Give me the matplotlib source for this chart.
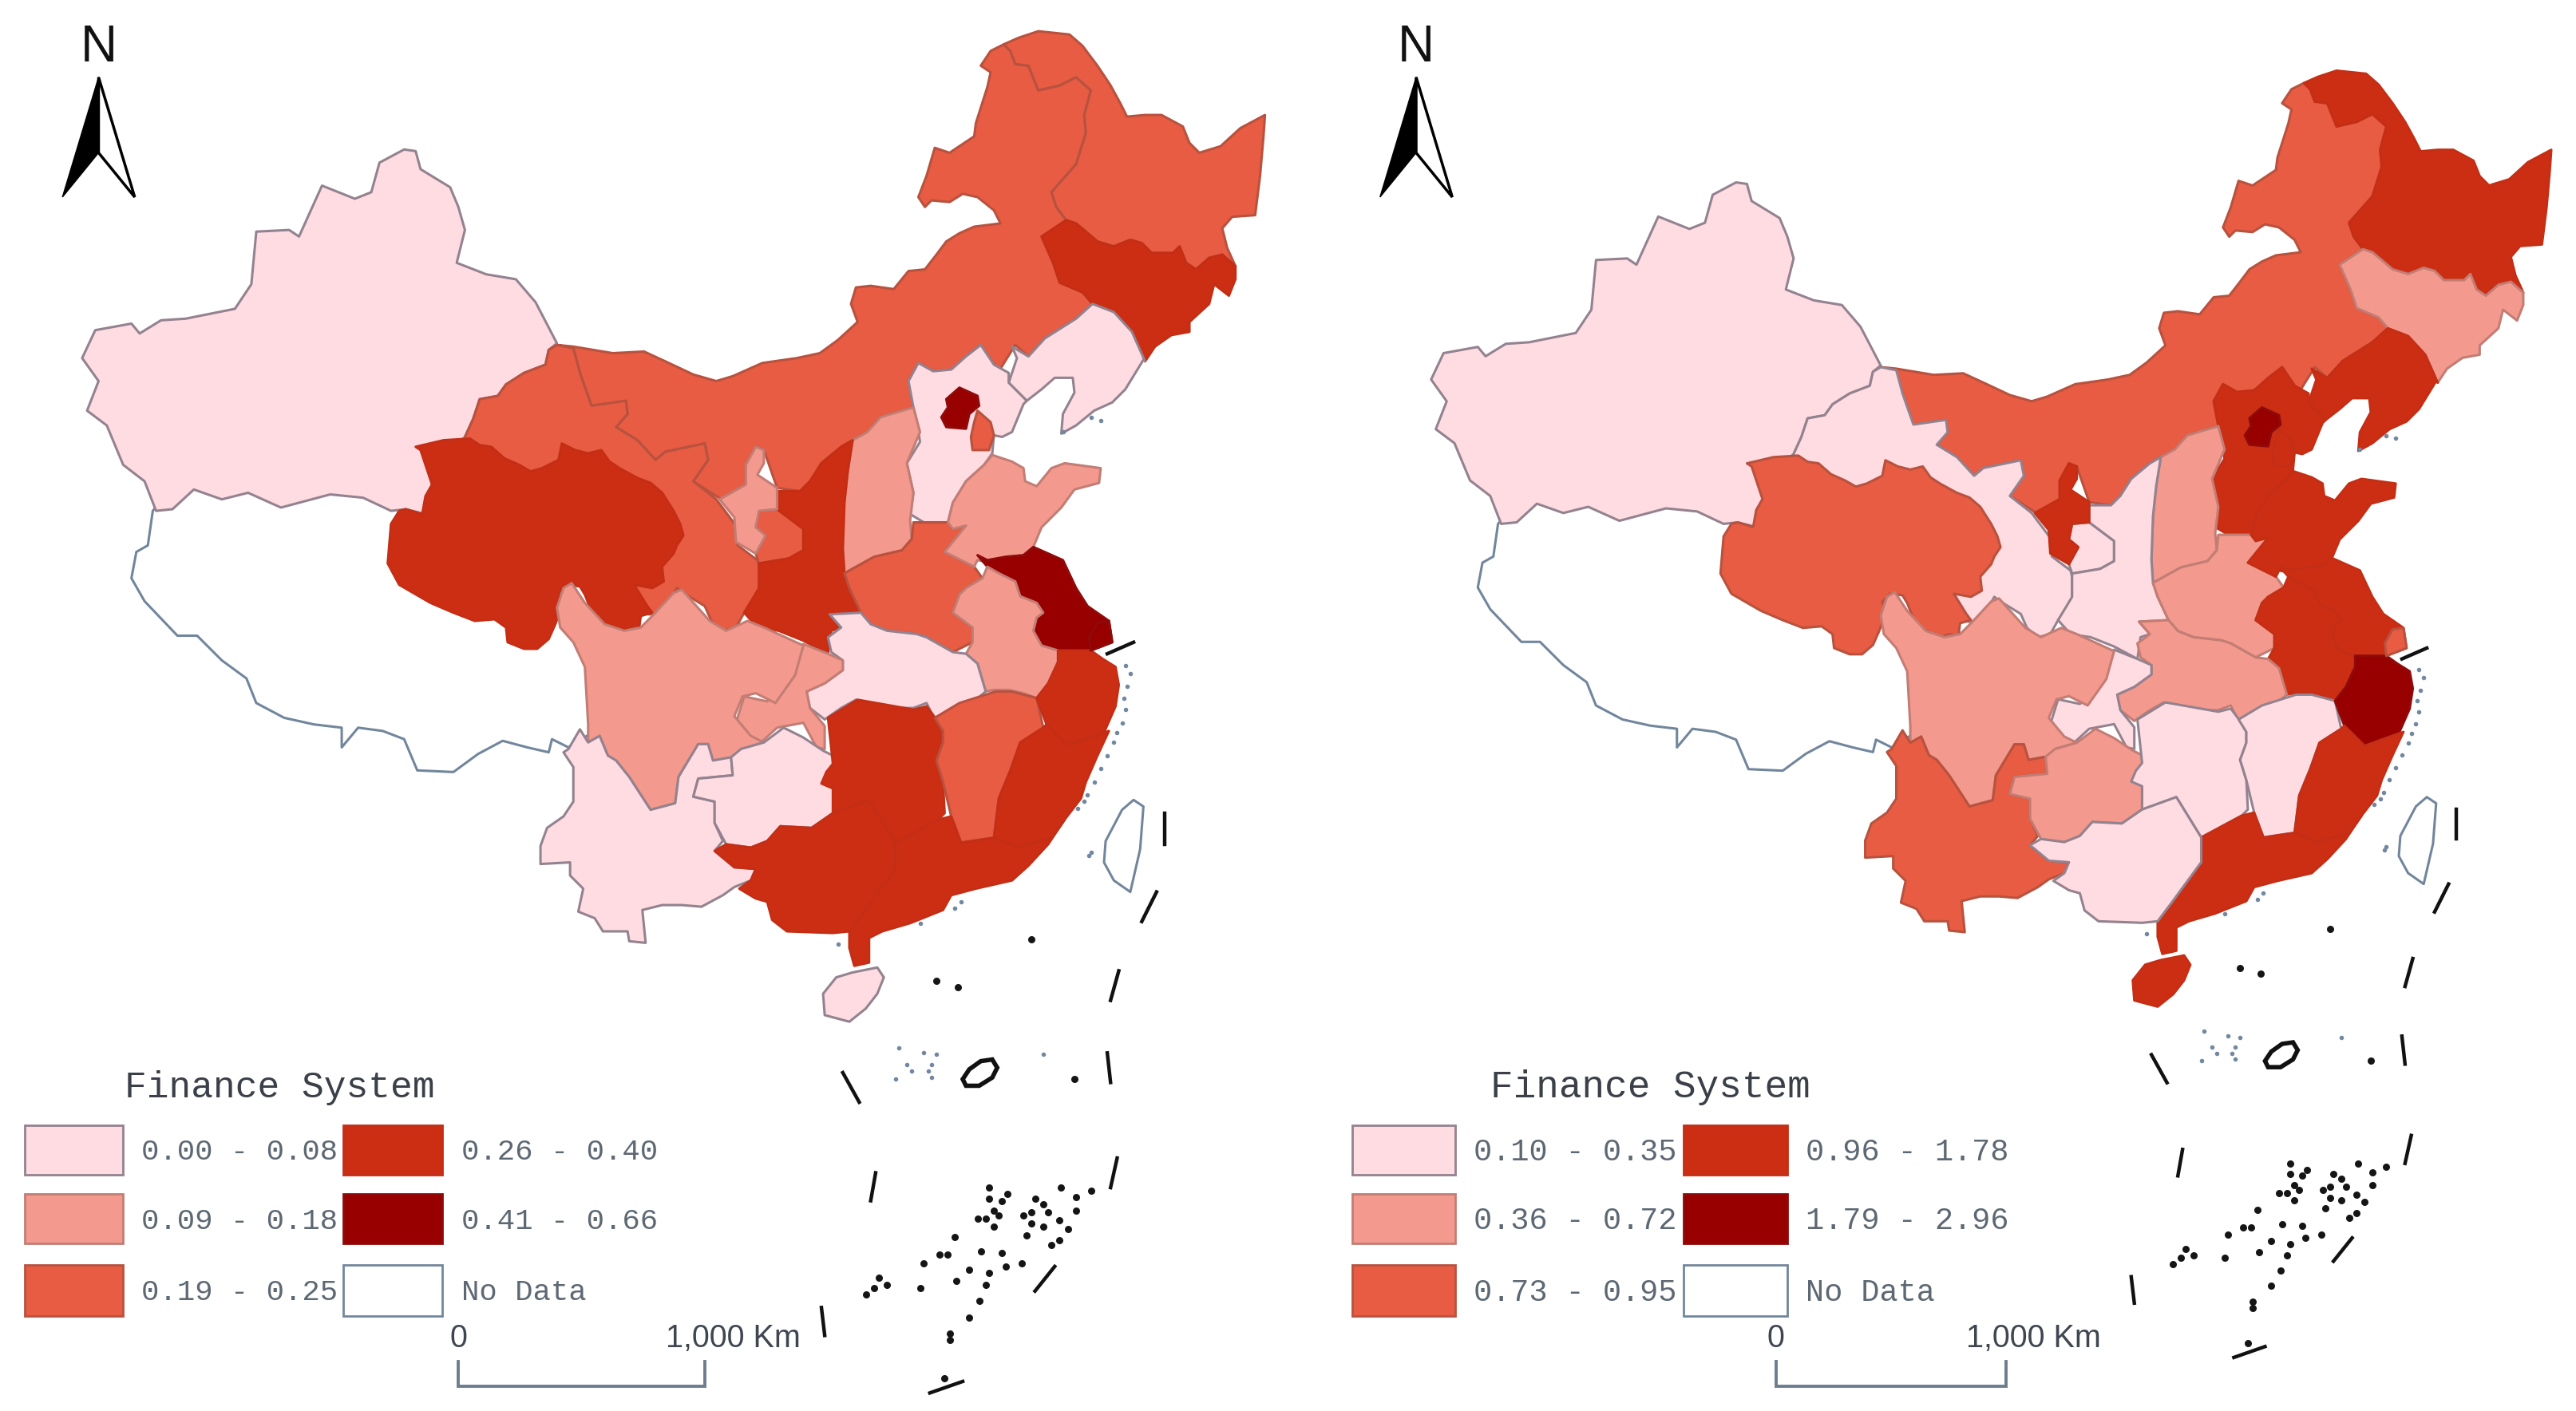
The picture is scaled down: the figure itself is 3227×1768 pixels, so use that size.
import matplotlib
matplotlib.use('Agg')
import matplotlib.pyplot as plt
from matplotlib.patches import Polygon, Rectangle

# Contours des provinces (unites de la carte de gauche, y vers le bas)
tibet = [(93,311),(90,332),(83,336),(80,352),(88,366),(108,387),(120,387),(135,402),(150,413),(156,428),(173,437),(191,441),(208,443),(208,455),(218,443),(233,445),(246,450),(254,469),(276,470),(291,459),(306,451),(321,455),(334,458),(336,450),(346,455),(370,440),(370,390),(320,340),(240,290),(110,290)]
xinjiang = [(246,91),(253,92),(256,103),(274,114),(279,126),(283,140),(278,160),(296,167),(314,170),(326,184),(339,209),(334,213),(332,222),(319,227),(308,234),(303,241),(292,243),(288,255),(283,266),(262,285),(263,294),(259,313),(247,310),(238,311),(221,303),(201,301),(171,309),(151,300),(135,304),(118,298),(105,310),(95,311),(88,293),(75,283),(65,259),(53,250),(60,232),(50,218),(58,201),(80,197),(85,203),(98,195),(113,194),(143,188),(153,173),(156,141),(176,140),(182,144),(196,113),(216,121),(226,117),(231,99)]
inner_mongolia = [(339,210),(349,211),(373,215),(392,214),(405,220),(422,228),(436,232),(446,229),(464,221),(485,218),(499,215),(510,207),(522,196),(518,185),(521,175),(530,174),(544,176),(553,165),(563,164),(570,155),(576,147),(584,142),(593,138),(609,136),(605,128),(595,120),(586,118),(578,123),(567,122),(563,126),(559,120),(564,107),(569,90),(578,93),(593,83),(594,75),(601,53),(603,44),(597,40),(603,31),(611,27),(615,31),(618,39),(626,40),(632,55),(645,52),(655,47),(664,55),(660,70),(661,81),(655,100),(640,117),(643,126),(649,134),(634,144),(641,160),(645,172),(659,178),(665,185),(655,194),(636,206),(626,217),(618,210),(608,226),(597,210),(588,217),(579,225),(568,226),(559,221),(553,232),(556,248),(536,254),(528,263),(519,268),(512,272),(500,282),(493,293),(487,299),(473,297),(465,274),(460,272),(454,283),(454,295),(439,304),(422,293),(431,280),(429,270),(405,275),(399,280),(388,268),(375,260),(382,252),(381,244),(360,247),(353,227),(349,212)]
gansu = [(339,210),(349,212),(353,227),(360,247),(381,244),(382,252),(375,260),(388,268),(399,280),(405,275),(429,270),(431,280),(422,293),(436,304),(448,320),(449,332),(461,341),(462,345),(462,360),(453,373),(448,382),(440,384),(433,378),(429,369),(416,361),(412,358),(407,367),(403,374),(395,374),(386,356),(400,320),(340,310),(290,290),(283,266),(288,255),(292,243),(303,241),(308,234),(319,227),(332,222),(334,213)]
gansu_east = [(462,311),(473,310),(489,322),(489,335),(480,340),(462,343),(460,337),(466,326),(460,321)]
qinghai = [(253,272),(270,268),(286,267),(292,271),(299,272),(307,279),(316,283),(323,287),(330,285),(340,280),(342,270),(350,274),(358,276),(366,274),(371,281),(377,285),(388,291),(396,294),(403,300),(410,311),(414,319),(416,326),(412,332),(410,337),(403,345),(404,354),(397,358),(386,356),(394,369),(397,373),(390,375),(389,383),(383,382),(377,384),(369,380),(362,377),(356,362),(353,357),(345,356),(340,361),(342,369),(338,380),(334,389),(327,395),(319,395),(309,391),(308,382),(301,377),(289,378),(276,373),(262,367),(243,356),(236,343),(238,319),(243,311),(247,310),(257,313),(259,302),(263,295),(259,283),(256,274)]
heilongjiang = [(611,27),(620,23),(632,19),(651,21),(659,28),(668,40),(676,52),(682,63),(686,71),(697,70),(707,70),(720,77),(724,87),(730,93),(743,89),(755,78),(770,70),(769,84),(767,107),(764,131),(750,132),(744,139),(747,151),(752,162),(744,155),(736,157),(728,164),(722,160),(718,150),(714,154),(701,154),(695,148),(688,146),(678,150),(668,147),(661,141),(655,136),(649,134),(643,126),(640,117),(655,100),(661,81),(660,70),(664,55),(655,47),(645,52),(632,55),(626,40),(618,39),(615,31)]
jilin = [(634,144),(649,134),(655,136),(661,141),(668,147),(678,150),(688,146),(695,148),(701,154),(714,154),(718,150),(722,160),(728,164),(736,157),(744,155),(752,162),(752,170),(748,180),(739,173),(736,185),(724,196),(724,202),(713,204),(703,211),(697,220),(689,202),(678,190),(665,185),(659,178),(645,172),(641,160)]
liaoning = [(665,185),(678,190),(689,202),(697,220),(696,219),(685,237),(677,245),(666,250),(655,259),(646,264),(647,252),(654,239),(653,230),(642,230),(634,237),(625,244),(614,233),(619,218),(616,211),(626,217),(636,206),(655,194)]
hebei = [(556,248),(553,232),(559,221),(568,226),(579,225),(588,217),(597,210),(605,222),(614,227),(614,233),(625,244),(623,246),(616,263),(610,266),(605,265),(604,276),(599,283),(588,293),(580,306),(577,318),(564,319),(554,313),(556,300),(552,282),(560,269),(558,256)]
beijing = [(584,236),(595,241),(596,247),(590,252),(588,261),(576,260),(573,254),(577,248),(576,243)]
tianjin = [(595,250),(603,257),(605,265),(602,274),(592,274),(591,266),(593,257)]
shanxi = [(556,248),(560,263),(552,282),(556,300),(554,317),(555,328),(549,335),(532,339),(514,349),(513,334),(514,306),(516,287),(519,268),(528,263),(536,254)]
shaanxi = [(519,268),(516,287),(514,306),(513,334),(514,349),(517,358),(524,373),(505,374),(512,382),(506,384),(504,398),(489,390),(474,384),(461,382),(453,373),(462,358),(462,343),(480,340),(489,335),(489,322),(473,310),(473,299),(487,299),(493,293),(500,282),(512,272)]
ningxia = [(460,272),(465,274),(465,282),(461,289),(473,297),(473,310),(462,311),(460,321),(466,326),(460,337),(448,330),(447,315),(438,304),(454,295),(454,283)]
henan = [(556,318),(577,318),(580,322),(588,320),(575,336),(593,345),(598,352),(588,358),(584,362),(580,373),(592,382),(592,391),(580,397),(564,388),(558,386),(540,384),(530,380),(524,373),(517,358),(514,349),(532,339),(549,335),(555,328)]
shandong = [(604,277),(616,281),(623,285),(624,293),(631,296),(640,285),(648,282),(670,285),(669,294),(654,298),(646,309),(634,321),(629,333),(623,338),(612,339),(605,343),(595,341),(593,345),(575,336),(588,320),(580,322),(577,318),(580,306),(588,293),(599,283)]
jiangsu = [(595,338),(601,341),(612,339),(623,338),(629,333),(647,341),(655,358),(662,369),(675,378),(677,391),(664,396),(644,396),(634,393),(629,384),(631,376),(635,373),(631,367),(621,363),(618,354),(608,349),(601,345)]
anhui = [(601,345),(608,349),(618,354),(621,363),(631,367),(635,373),(631,376),(629,384),(634,393),(644,396),(644,403),(638,416),(631,425),(623,422),(614,420),(605,420),(600,421),(595,404),(588,398),(592,391),(592,382),(580,373),(584,362),(588,358),(598,352)]
hubei = [(505,374),(524,373),(530,380),(540,384),(558,386),(564,388),(580,397),(588,398),(595,404),(600,421),(588,431),(575,434),(569,438),(564,428),(556,431),(538,431),(521,426),(512,431),(502,438),(493,431),(491,421),(502,416),(513,408),(513,402),(506,397),(504,388),(512,382)]
chongqing = [(489,392),(504,398),(513,402),(513,408),(502,416),(491,421),(493,431),(502,442),(502,456),(497,455),(489,440),(473,443),(461,454),(454,451),(448,440),(453,424),(467,427),(482,412)]
sichuan = [(343,358),(348,355),(356,367),(368,380),(380,384),(390,382),(398,374),(410,361),(415,359),(432,378),(442,384),(455,378),(465,382),(489,393),(484,411),(472,428),(460,422),(452,424),(447,436),(457,448),(465,452),(451,456),(449,465),(461,466),(447,461),(434,463),(431,453),(425,453),(413,473),(411,489),(396,493),(383,473),(375,463),(370,460),(365,448),(358,452),(358,441),(356,406),(349,391),(341,382),(339,370)]
yunnan = [(353,444),(358,452),(365,448),(370,460),(375,463),(383,473),(396,493),(411,489),(413,473),(425,453),(431,453),(434,463),(445,461),(446,472),(425,474),(422,485),(435,488),(435,501),(440,512),(435,518),(447,528),(460,529),(457,536),(447,540),(440,545),(427,552),(415,551),(403,551),(391,554),(393,574),(383,573),(382,567),(367,567),(362,559),(352,555),(355,541),(347,533),(347,525),(329,526),(329,515),(333,504),(343,497),(349,488),(349,467),(343,458),(346,456)]
guizhou = [(425,474),(446,472),(445,461),(451,456),(465,452),(477,443),(489,449),(501,457),(507,460),(507,495),(494,504),(475,503),(467,512),(457,516),(442,514),(435,501),(435,488),(422,485)]
hunan = [(504,437),(522,426),(539,429),(556,432),(564,430),(570,438),(574,445),(574,452),(570,463),(574,476),(575,495),(571,499),(545,513),(529,487),(507,495),(507,480),(500,477),(503,470),(507,465)]
jiangxi = [(569,437),(584,428),(606,421),(616,421),(631,425),(635,443),(621,452),(615,469),(608,486),(605,510),(585,513),(579,497),(574,476),(570,463),(574,452),(574,445)]
zhejiang = [(644,396),(664,396),(671,401),(679,406),(681,417),(679,430),(672,446),(660,450),(650,454),(637,441),(631,425),(638,416),(644,403)]
fujian = [(635,443),(637,441),(650,454),(672,446),(675,445),(668,460),(661,476),(658,486),(648,499),(640,510),(620,516),(605,510),(608,486),(615,469),(621,452)]
guangdong = [(545,513),(571,499),(579,497),(585,513),(605,510),(620,516),(640,510),(648,499),(638,514),(626,527),(616,536),(594,541),(579,545),(574,554),(554,562),(537,567),(529,571),(529,586),(520,588),(517,577),(517,567),(526,555),(545,529)]
guangxi = [(435,518),(442,514),(457,516),(467,512),(475,503),(494,504),(507,495),(529,487),(545,513),(545,529),(526,555),(517,567),(507,568),(479,567),(470,560),(467,549),(460,547),(450,541),(457,536),(460,529),(447,528)]
hainan = [(534,589),(538,595),(534,605),(527,614),(517,622),(502,618),(501,605),(509,595),(519,592)]
taiwan = [(690,487),(696,491),(694,517),(688,543),(678,536),(672,525),(673,512),(683,493)]
shanghai = [(668,379),(675,378),(677,391),(664,396),(663,388)]

noms = ['Tibet','Xinjiang','Inner Mongolia','Gansu','Gansu East','Qinghai','Heilongjiang','Jilin','Liaoning','Hebei','Shanxi','Shaanxi','Ningxia','Beijing','Tianjin','Henan','Shandong','Jiangsu','Anhui','Hubei','Chongqing','Sichuan','Yunnan','Guizhou','Hunan','Jiangxi','Zhejiang','Fujian','Guangdong','Guangxi','Hainan','Taiwan','Shanghai']
contours = [tibet,xinjiang,inner_mongolia,gansu,gansu_east,qinghai,heilongjiang,jilin,liaoning,hebei,shanxi,shaanxi,ningxia,beijing,tianjin,henan,shandong,jiangsu,anhui,hubei,chongqing,sichuan,yunnan,guizhou,hunan,jiangxi,zhejiang,fujian,guangdong,guangxi,hainan,taiwan,shanghai]

# Classe de chaque province (-1 = No Data)
classes_gauche = [-1,0,2,2,2,3,2,3,0,0,1,3,1,4,2,2,1,4,1,0,1,1,0,0,3,2,3,3,3,3,0,-1,4]
classes_droite = [-1,0,2,0,0,2,3,1,3,3,1,0,3,4,3,1,3,3,3,1,0,1,2,1,0,0,4,3,3,0,3,-1,2]

# Mer de Chine et petites iles
tirets = [((709,495),(709,514)),((704,543),(695,561)),((681,591),(676,609)),((674,641),(676,659)),((513,653),(523,671)),((680,705),(676,723)),((533,714),(530,731)),((642,771),(630,786)),((500,796),(502,813)),((566,848),(586,841)),((674,398),(690,391))]
iles_noires = [(602,723),(613,727),(602,730),(610,731),(605,737),(600,742),(608,740),(605,747),(595,742),(623,740),(630,730),(635,733),(628,738),(638,738),(628,745),(635,747),(645,743),(650,748),(625,752),(645,755),(640,758),(646,723),(655,729),(664,725),(655,737),(581,753),(572,764),(562,769),(577,764),(597,762),(610,763),(622,769),(612,771),(602,775),(590,773),(582,780),(600,782),(596,792),(590,802),(535,778),(540,782),(532,784),(527,788),(560,784),(628,572),(654,657),(570,597),(583,601),(578,812),(578,816),(575,839)]
iles_bleues = [(547,638),(562,641),(570,642),(552,648),(567,648),(555,652),(565,652),(545,657),(567,656),(635,642),(685,405),(688,410),(686,418),(684,425),(685,432),(683,440),(680,446),(678,452),(674,460),(670,468),(666,476),(662,484),(656,492),(660,488),(581,553),(585,549),(560,562),(663,521),(664,519),(664,254),(670,256),(647,263),(510,575)]
anneau = [(604,645),(607,650),(604,656),(596,661),(588,661),(586,657),(590,651),(597,646)]

# Legendes
titre = 'Finance System'
labels_gauche = ['0.00 - 0.08','0.09 - 0.18','0.19 - 0.25','0.26 - 0.40','0.41 - 0.66','No Data']
labels_droite = ['0.10 - 0.35','0.36 - 0.72','0.73 - 0.95','0.96 - 1.78','1.79 - 2.96','No Data']
legende_classes = [0,1,2,3,4,-1]

couleurs = {-1:'white',0:'#FFDCE1',1:'#F4998D',2:'#E75C42',3:'#CC2E14',4:'#980000'}
bords = {-1:'#71869C',0:'#93828F',1:'#C27D75',2:'#B8523F',3:'#C42E15',4:'#8F0A0A'}


def dessiner_carte(ax, classes):
    for contour, classe in zip(contours, classes):
        ax.add_patch(Polygon(contour, closed=True, facecolor=couleurs[classe],
                             edgecolor=bords[classe], linewidth=2.2, joinstyle='round'))
    for debut, fin in tirets:
        ax.plot([debut[0], fin[0]], [debut[1], fin[1]], color='#111111', lw=3.2)
    ax.add_patch(Polygon(anneau, closed=True, facecolor='white', edgecolor='#111111', linewidth=4))
    ax.scatter([p[0] for p in iles_noires], [p[1] for p in iles_noires], s=42, color='#151515', linewidths=0)
    ax.scatter([p[0] for p in iles_bleues], [p[1] for p in iles_bleues], s=16, color='#7388A0', linewidths=0)


def dessiner_nord(ax, x):
    ax.text(x, 29, 'N', ha='center', va='center', fontsize=46, family='Liberation Sans', color='#111111')
    ax.add_patch(Polygon([(x, 47), (x - 22, 120), (x, 93)], closed=True, facecolor='black', edgecolor='black', linewidth=1))
    ax.add_patch(Polygon([(x, 47), (x + 22, 120), (x, 93)], closed=True, facecolor='white', edgecolor='black', linewidth=2.5))


def dessiner_legende(ax, labels, x_titre, x_cases, largeur, x_textes, taille):
    ax.text(x_titre, 662, titre, ha='left', va='center', family='Liberation Mono', fontsize=taille + 6.5, color='#3A3F48')
    rangs = [(685, 30), (727, 30), (770, 31)]
    for i, label in enumerate(labels):
        colonne = i // 3
        y, h = rangs[i % 3]
        classe = legende_classes[i]
        ax.add_patch(Rectangle((x_cases[colonne], y), largeur, h, facecolor=couleurs[classe],
                               edgecolor=bords[classe], linewidth=2))
        ax.text(x_textes[colonne], y + h / 2 + 1.5, label, ha='left', va='center',
                family='Liberation Mono', fontsize=taille, color='#5D6873')


def dessiner_echelle(ax, x0, x1, x_texte):
    ax.plot([x0, x0, x1, x1], [829, 844, 844, 829], color='#6C7E8E', lw=2.8, solid_joinstyle='miter')
    ax.text(x0, 815, '0', ha='center', va='center', family='Liberation Sans', fontsize=28.5, color='#3F4650')
    ax.text(x_texte, 815, '1,000 Km', ha='left', va='center', family='Liberation Sans', fontsize=28.5, color='#3F4650')


fig = plt.figure(figsize=(32.27, 17.68), dpi=100, facecolor='white')

# Carte de gauche et habillage : toute la figure
ax = fig.add_axes([0, 0, 1, 1])
ax.set_xlim(0, 1568)
ax.set_ylim(859, 0)
ax.axis('off')

# Carte de droite : memes contours, echelle un peu plus petite
ax2 = fig.add_axes([0, 0, 1, 1])
ax2.set_xlim(-869.9, 785.9)
ax2.set_ylim(882.5, -26.5)
ax2.axis('off')
ax2.patch.set_alpha(0)

dessiner_carte(ax, classes_gauche)
dessiner_carte(ax2, classes_droite)

dessiner_nord(ax, 60)
dessiner_nord(ax, 862)
dessiner_legende(ax, labels_gauche, 76, [15, 209], 60, [86, 281], 26.8)
dessiner_legende(ax, labels_droite, 907, [823, 1025], 63, [897, 1099], 27.8)
dessiner_echelle(ax, 279, 429, 405)
dessiner_echelle(ax, 1081, 1221, 1197)

fig.savefig('out.png', dpi=100)
